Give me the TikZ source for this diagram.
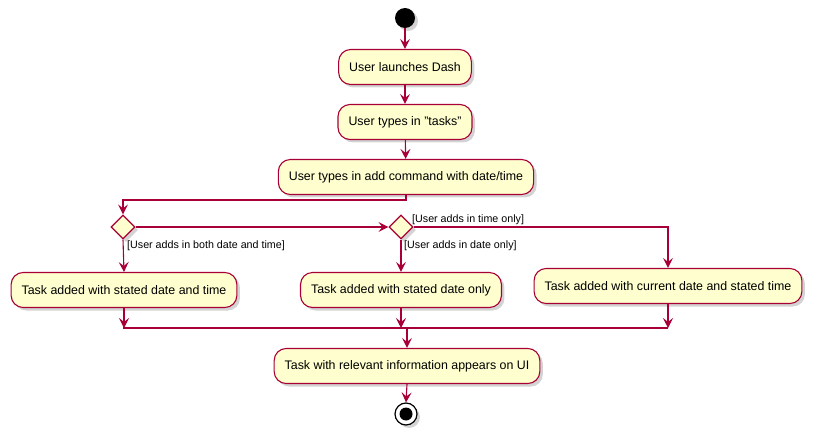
\documentclass[tikz,border=0pt]{standalone}
\usepackage{fontspec}
\setmainfont{Liberation Sans}
\usetikzlibrary{arrows.meta,shapes.geometric,shadows}
\definecolor{umlred}{HTML}{A80036}
\definecolor{umlfill}{HTML}{FEFECE}

\begin{document}
\begin{tikzpicture}[x=1pt,y=-1pt,>={Stealth[length=10pt,width=10pt,inset=4pt]},
  umlshadow/.style={drop shadow={shadow xshift=3pt,shadow yshift=-3pt,opacity=.35}},
  act/.style={rectangle,rounded corners=12pt,draw=umlred,fill=umlfill,line width=1.1pt,
    minimum height=35pt,inner xsep=10.5pt,font=\fontsize{12.4}{14}\selectfont,umlshadow},
  choice/.style={diamond,draw=umlred,fill=umlfill,line width=1.1pt,inner sep=0pt,
    minimum width=24pt,minimum height=24pt,umlshadow},
  startstate/.style={circle,fill=black,inner sep=0pt,minimum size=20pt,umlshadow},
  endstate/.style={circle,draw=black,fill=white,line width=1.2pt,inner sep=0pt,minimum size=22pt,umlshadow},
  flow/.style={->,draw=umlred,line width=1.1pt},
  guard/.style={anchor=west,inner sep=0pt,font=\fontsize{10.7}{12}\selectfont}]

  \useasboundingbox (0,0) rectangle (817,441);

  \node[startstate] (start) at (405,18) {};
  \node[act] (launch) at (405,67) {User launches Dash};
  \node[act] (tasks) at (405,122) {User types in "tasks"};
  \node[act] (cmd) at (406,177) {User types in add command with date/time};
  \node[choice] (d1) at (123,227) {};
  \node[choice] (d2) at (401,227) {};
  \node[act] (both) at (124,290) {Task added with stated date and time};
  \node[act] (dateonly) at (401,290) {Task added with stated date only};
  \node[act] (timeonly) at (668,286) {Task added with current date and stated time};
  \node[act] (show) at (407,366) {Task with relevant information appears on UI};
  \node[endstate] (end) at (406,414) {};
  \fill (end) circle (6.5);

  \node[guard] (gboth) at (127,246) {[User adds in both date and time]};
  \node[guard] (gdate) at (404,246) {[User adds in date only]};
  \node[guard] (gtime) at (412,220) {[User adds in time only]};

  \coordinate (mergeL) at (123,328);
  \coordinate (mergeR) at (668,328);

  \draw[flow] (start) -- (launch);
  \draw[flow] (launch) -- (tasks);
  \draw[flow] (tasks) -- (cmd);
  \draw[flow] (cmd.south) -- ++(0,5) -| (d1.north);
  \draw[flow] (d1.east) -- (d2.west);
  \draw[flow] (d1.south) -- (both.north);
  \draw[flow] (d2.south) -- (dateonly.north);
  \draw[flow] (d2.east) -| (timeonly.north);
  \draw[flow] (both.south) -- (both.south |- mergeL);
  \draw[flow] (dateonly.south) -- (dateonly.south |- mergeL);
  \draw[flow] (timeonly.south) -- (mergeR);
  \draw[flow,-] (mergeL) -- (mergeR);
  \draw[flow] (show.north |- mergeL) -- (show.north);
  \draw[flow] (show.south) -- (end.north);

\end{tikzpicture}
\end{document}
